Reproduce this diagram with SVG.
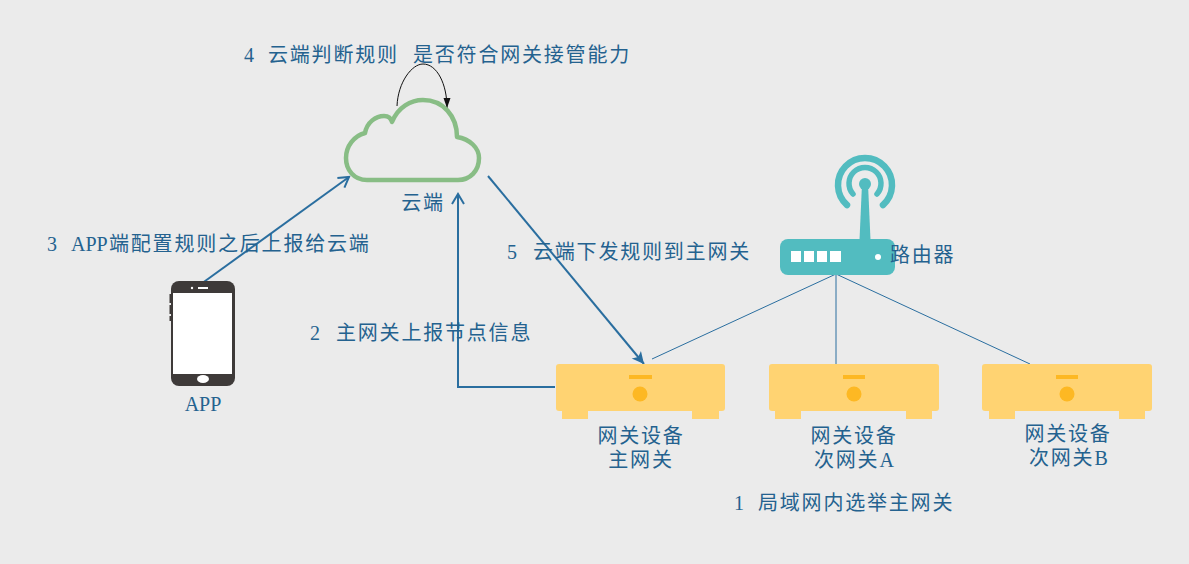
<svg xmlns="http://www.w3.org/2000/svg" width="1189" height="564" viewBox="0 0 1189 564">
<style>
text{font-family:"Liberation Serif","Noto Sans CJK SC",serif;font-size:20px;letter-spacing:1.8px;fill:#24628f}
.m{text-anchor:middle}
.l{letter-spacing:0}
.gw{fill:#ffd372}
.dot{fill:#fdb823}
.teal{fill:#52bcc0}
.arc{fill:none;stroke:#52bcc0;stroke-width:6.500;stroke-linecap:round}
.arc2{fill:none;stroke:#52bcc0;stroke-width:5.500;stroke-linecap:round}
.c{fill:none;stroke:#2a6e9f;stroke-width:2}
.t{fill:none;stroke:#2a6e9f;stroke-width:1}
</style>
<defs>
<marker id="v" markerUnits="userSpaceOnUse" markerWidth="18" markerHeight="18" refX="13" refY="9" orient="auto"><path d="M3 3L13 9L3 15" fill="none" stroke="#2a6e9f" stroke-width="2"/></marker>
<marker id="a" markerUnits="userSpaceOnUse" markerWidth="18" markerHeight="18" refX="14" refY="9" orient="auto"><path d="M2 3L14 9L2 15L5 9Z" fill="#2a6e9f"/></marker>
<marker id="o" markerUnits="userSpaceOnUse" markerWidth="14" markerHeight="14" refX="11" refY="7" orient="auto"><path d="M1 3.500L11 7L1 10.500Z" fill="#111"/></marker>
</defs>
<rect width="1189" height="564" fill="#ebebeb"/>
<g id="connectors">
<path class="c" marker-end="url(#v)" d="M201 284L349 177"/>
<path class="c" marker-end="url(#v)" d="M555 387H458V194"/>
<path class="c" marker-end="url(#a)" d="M488 176L644 364"/>
<path d="M397 106C398 82 412 64 423 64C437 64 447 84 447 108" fill="none" stroke="#111" stroke-width="1" marker-end="url(#o)"/>
<path class="t" d="M836 274L652 359M836 274V364M836 274L1030 364"/>
</g>
<g id="cloud"><path d="M367 180C354 180 346 170 346 158C346 146 354 136 365 133C367 122 376 116 384 116C388 116 391 118 392 122C398 107 411 100 423 100C443 100 457 116 457 137C470 139 479 148 479 158C479 171 470 180 458 180Z" fill="none" stroke="#88bd85" stroke-width="4.500" stroke-linejoin="round"/><text class="m" x="423" y="210">云端</text></g>
<g id="router">
<path class="arc" d="M847 205A27 27 0 1 1 883 205"/>
<path class="arc2" d="M853 194A16 16 0 1 1 877 194"/>
<circle class="teal" cx="865" cy="184" r="6"/>
<path class="teal" d="M862 184H868L870.500 240H859.500Z"/>
<rect class="teal" x="780" y="239" width="115" height="36" rx="8"/>
<path fill="#fff" d="M791 251h10v11h-10zM804 251h10v11h-10zM817 251h10v11h-10zM830 251h11v11h-11z"/>
<circle cx="878" cy="257" r="3" fill="#fff"/>
<text x="890" y="262">路由器</text>
</g>
<g id="phone">
<rect x="171" y="281" width="64" height="105" rx="8" fill="#3e3a39"/>
<path d="M169.500 294h2v9h-2zM169.500 305h2v9h-2zM169.500 316h2v5h-2z" fill="#3e3a39"/>
<rect x="173" y="293" width="59" height="81" fill="#fff"/>
<ellipse cx="203" cy="379" rx="6" ry="4" fill="#fff"/>
<rect x="198" y="287" width="10" height="2" fill="#fff"/><circle cx="192" cy="288" r="1.200" fill="#fff"/>
<text class="m l" x="203" y="411">APP</text>
</g>
<g id="gw-main">
<rect class="gw" x="556" y="364" width="169" height="47" rx="3"/><path class="gw" d="M562 410h26v9h-26zM692 410h27v9h-27z"/>
<rect class="dot" x="629" y="375" width="23" height="4"/><circle class="dot" cx="640" cy="394" r="7.500"/>
<text class="m" x="641" y="443">网关设备</text><text class="m" x="641" y="467">主网关</text>
</g>
<g id="gw-a">
<rect class="gw" x="769" y="364" width="170" height="47" rx="3"/><path class="gw" d="M775 410h26v9h-26zM906 410h26v9h-26z"/>
<rect class="dot" x="843" y="375" width="22" height="4"/><circle class="dot" cx="854" cy="394" r="7.500"/>
<text class="m" x="854" y="443">网关设备</text><text x="814" y="467">次网关<tspan class="l">A</tspan></text>
</g>
<g id="gw-b">
<rect class="gw" x="982" y="364" width="170" height="47" rx="3"/><path class="gw" d="M989 410h26v9h-26zM1119 410h26v9h-26z"/>
<rect class="dot" x="1056" y="375" width="22" height="4"/><circle class="dot" cx="1067" cy="394" r="7.500"/>
<text class="m" x="1068" y="441">网关设备</text><text x="1029" y="465">次网关<tspan class="l">B</tspan></text>
</g>
<g id="labels">
<text y="62"><tspan class="l" x="244">4</tspan><tspan x="268">云端判断规则</tspan><tspan x="413">是否符合网关接管能力</tspan></text>
<text y="251"><tspan class="l" x="47">3</tspan><tspan class="l" x="71">APP</tspan><tspan x="109">端配置规则之后上报给云端</tspan></text>
<text y="259"><tspan class="l" x="507">5</tspan><tspan x="533">云端下发规则到主网关</tspan></text>
<text y="340"><tspan class="l" x="310">2</tspan><tspan x="336">主网关上报节点信息</tspan></text>
<text y="510"><tspan class="l" x="734">1</tspan><tspan x="758">局域网内选举主网关</tspan></text>
</g>
</svg>
